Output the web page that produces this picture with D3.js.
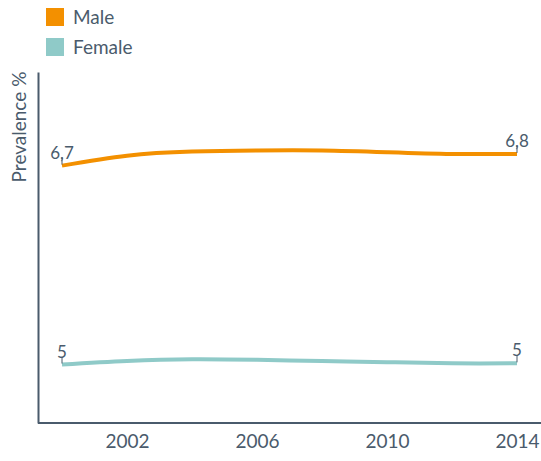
<!DOCTYPE html>
<html>
<head>
<meta charset="utf-8">
<script src="https://cdn.jsdelivr.net/npm/d3@7"></script>
<style>
  html, body { margin: 0; padding: 0; background: #fff; }
  svg { display: block; font-family: Lato, "Open Sans", sans-serif; }
</style>
</head>
<body>
<svg id="chart" width="541" height="461"></svg>
<script>
const years = [2000, 2002, 2004, 2006, 2008, 2010, 2012, 2014];
const maleValues = [6.7, 6.785, 6.82, 6.83, 6.83, 6.815, 6.80, 6.80];
const femaleValues = [5.0, 5.03, 5.045, 5.04, 5.03, 5.02, 5.01, 5.01];
const seriesNames = ["Male", "Female"];
const seriesColors = ["#F39000", "#8FCAC8"];
const startLabels = ["6,7", "5"];
const endLabels = ["6,8", "5"];
const xTicks = [2002, 2006, 2010, 2014];
const yDomain = [4.5, 7.5];
const yTitle = "Prevalence %";

const textColor = "#4A5B6C";
const svg = d3.select("#chart");

const x = d3.scaleLinear().domain([2000, 2014]).range([62, 517]);
const y = d3.scaleLinear().domain(yDomain).range([423, 72]);

// axes
const gx = svg.append("g").attr("transform", "translate(0,423)")
  .call(d3.axisBottom(x).tickValues(xTicks).tickFormat(d3.format("d")).tickSize(0).tickPadding(12));
gx.select(".domain").remove();
gx.selectAll("text").attr("fill", textColor).style("font-size", "19px").style("font-family", "Lato, sans-serif");
svg.append("line").attr("x1", 38).attr("x2", 541).attr("y1", 423).attr("y2", 423)
  .attr("stroke", textColor).attr("stroke-width", 2);

const gy = svg.append("g").attr("transform", "translate(38,0)")
  .call(d3.axisLeft(y).tickValues([]).tickSize(0));
gy.select(".domain").attr("stroke", textColor).attr("stroke-width", 2);

svg.append("text")
  .attr("transform", "translate(26,127) rotate(-90)")
  .attr("text-anchor", "middle")
  .attr("fill", textColor)
  .style("font-size", "19px")
  .text(yTitle);

// legend
seriesNames.forEach((name, i) => {
  const g = svg.append("g").attr("transform", `translate(46,${8 + i * 30})`);
  g.append("rect").attr("width", 18).attr("height", 18).attr("fill", seriesColors[i]);
  g.append("text").attr("x", 27).attr("y", 16).attr("fill", textColor)
    .style("font-size", "19px").text(name);
});

// lines
const allValues = [maleValues, femaleValues];
const line = d3.line().x(d => x(d[0])).y(d => y(d[1])).curve(d3.curveNatural);
allValues.forEach((vals, i) => {
  const data = years.map((yr, j) => [yr, vals[j]]);
  svg.append("path").datum(data).attr("d", line)
    .attr("fill", "none").attr("stroke", seriesColors[i]).attr("stroke-width", 4)
    .attr("stroke-linecap", "butt");
  const ends = [[data[0], startLabels[i]], [data[data.length - 1], endLabels[i]]];
  ends.forEach(([pt, lab]) => {
    const px = x(pt[0]), py = y(pt[1]);
    svg.append("line").attr("x1", px).attr("x2", px).attr("y1", py - 1).attr("y2", py - 8)
      .attr("stroke", textColor).attr("stroke-width", 1);
    svg.append("text").attr("x", px).attr("y", py - 7).attr("text-anchor", "middle")
      .attr("fill", textColor).style("font-size", "17px").text(lab);
  });
});
</script>
</body>
</html>
